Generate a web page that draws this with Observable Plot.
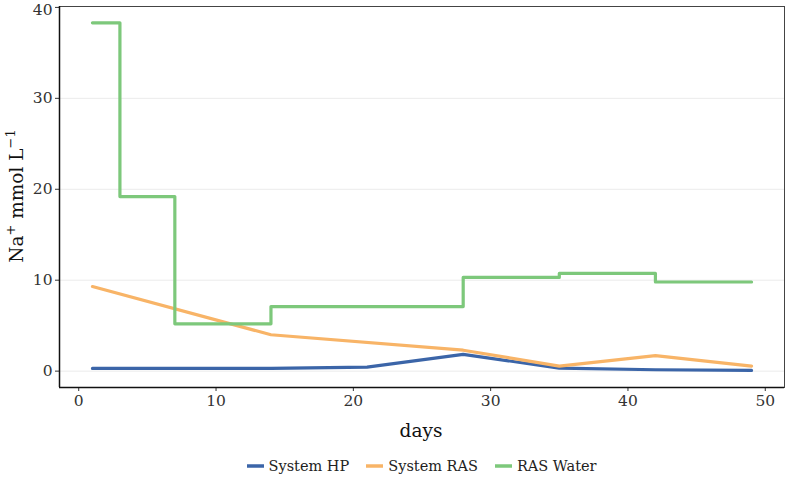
<!DOCTYPE html>
<html>
<head>
<meta charset="utf-8">
<script src="https://cdn.jsdelivr.net/npm/d3@7"></script>
<script src="https://cdn.jsdelivr.net/npm/@observablehq/plot@0.6"></script>
<style>
  html, body { margin: 0; padding: 0; background: #fff; }
  #chart { width: 787px; }
  .legend { display: flex; justify-content: center; align-items: center; gap: 17px;
    padding-left: 59px; padding-right: 3px; height: 27px; box-sizing: border-box;
    font-family: "DejaVu Serif", serif; font-size: 14.5px; color: #222; }
  .legend .item { display: flex; align-items: center; gap: 5px; }
</style>
</head>
<body>
<div id="chart"></div>
<script>
// Series data
const hpDays = [1, 14, 21, 28, 35, 42, 49];
const hpValues = [0.3, 0.3, 0.45, 1.85, 0.33, 0.15, 0.08];
const rasDays = [1, 14, 28, 35, 42, 49];
const rasValues = [9.3, 4.0, 2.3, 0.55, 1.7, 0.55];
const waterDays = [1, 3, 7, 14, 28, 35, 42, 49];
const waterValues = [38.3, 19.2, 5.2, 7.1, 10.3, 10.75, 9.8, 9.8];

const seriesNames = ["System HP", "System RAS", "RAS Water"];
const seriesColors = ["#3b65a8", "#f8b467", "#7dc87b"];
const xTicks = [0, 10, 20, 30, 40, 50];
const yTicks = [0, 10, 20, 30, 40];
const yTicksLower = yTicks.slice(0, -1);
const yTickTop = yTicks.slice(-1);

const hp = hpDays.map((d, i) => ({day: d, value: hpValues[i], series: seriesNames[0]}));
const ras = rasDays.map((d, i) => ({day: d, value: rasValues[i], series: seriesNames[1]}));
const water = waterDays.map((d, i) => ({day: d, value: waterValues[i], series: seriesNames[2]}));

const plot = Plot.plot({
  width: 787,
  height: 452,
  marginLeft: 59,
  marginRight: 3,
  marginTop: 6,
  marginBottom: 65,
  style: {fontFamily: "DejaVu Serif, serif", fontSize: "15.5px", color: "#333", background: "#fff"},
  x: {domain: [-1.4, 51.4], ticks: xTicks, label: null},
  y: {domain: [-1.8, 40.1], ticks: yTicks, label: null},
  color: {domain: seriesNames, range: seriesColors},
  marks: [
    Plot.gridY(yTicksLower, {stroke: "#ebebeb", strokeOpacity: 1, strokeWidth: 1}),
    Plot.frame({stroke: "#444", strokeWidth: 1}),
    Plot.axisX(xTicks, {tickSize: 4, tickPadding: 3, fontSize: 15.5, stroke: "#333", fill: "#333", label: null}),
    Plot.axisY(yTicksLower, {tickSize: 4, tickPadding: 3, fontSize: 15.5, stroke: "#333", fill: "#333", label: null}),
    Plot.axisY(yTickTop, {tickSize: 4, tickPadding: 3, fontSize: 15.5, stroke: "#333", fill: "#333", label: null, text: null}),
    Plot.text(yTickTop, {x: -1.4, y: (d) => d, text: (d) => String(d), dx: -7, dy: 3, textAnchor: "end", fontSize: 15.5, fill: "#333"}),
    Plot.ruleX([-1.4], {stroke: "#111", strokeWidth: 1.5}),
    Plot.ruleY([-1.8], {stroke: "#111", strokeWidth: 1.5}),
    Plot.line(hp, {x: "day", y: "value", stroke: "series", strokeWidth: 3.2}),
    Plot.line(ras, {x: "day", y: "value", stroke: "series", strokeWidth: 3.2}),
    Plot.line(water, {x: "day", y: "value", stroke: "series", strokeWidth: 3.2, curve: "step-after"})
  ]
});

const svg = d3.select(plot);
// x axis title
svg.append("text")
  .attr("x", 421).attr("y", 437)
  .attr("text-anchor", "middle")
  .attr("font-family", "DejaVu Serif, serif")
  .attr("font-size", 18.5).attr("fill", "#111")
  .text("days");
// y axis title with superscripts
const yl = svg.append("text")
  .attr("transform", "translate(23,196) rotate(-90)")
  .attr("text-anchor", "middle")
  .attr("font-family", "DejaVu Serif, serif")
  .attr("font-size", 18.5).attr("fill", "#111");
yl.append("tspan").text("Na");
yl.append("tspan").attr("font-size", 13).attr("dy", -8).text("+");
yl.append("tspan").attr("dy", 8).text(" mmol L");
yl.append("tspan").attr("font-size", 13).attr("dy", -8).text("\u22121");

document.getElementById("chart").appendChild(plot);

// legend below
const legend = d3.select("#chart").append("div").attr("class", "legend");
seriesNames.forEach((name, i) => {
  const item = legend.append("div").attr("class", "item");
  const sw = item.append("svg").attr("width", 17).attr("height", 10);
  sw.append("line").attr("x1", 0).attr("x2", 17).attr("y1", 5).attr("y2", 5)
    .attr("stroke", seriesColors[i]).attr("stroke-width", 3.5);
  item.append("span").text(name);
});
</script>
</body>
</html>
